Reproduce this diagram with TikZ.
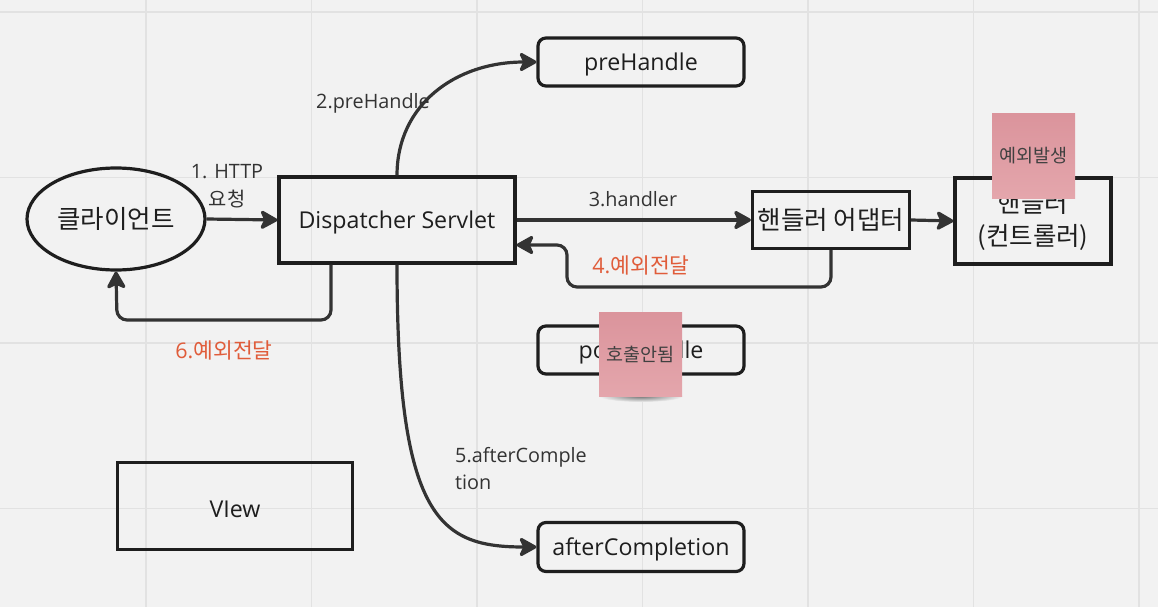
\documentclass[tikz,border=0pt]{standalone}
\usepackage{fontspec}
\setmainfont{Open Sans}
\newfontfamily\kr{Noto Sans CJK KR}
\usetikzlibrary{arrows.meta,shapes.geometric}
\definecolor{bg}{RGB}{242,242,242}
\definecolor{gridc}{RGB}{226,226,226}
\definecolor{ink}{RGB}{30,30,30}
\definecolor{wire}{RGB}{51,51,51}
\definecolor{orangec}{RGB}{224,92,58}
\definecolor{sticky}{RGB}{219,148,156}
\definecolor{stickyb}{RGB}{228,166,172}
\newcommand{\lowstrut}{\rule{0pt}{22.5pt}}
\begin{document}
\begin{tikzpicture}[x=1pt,y=-1pt,
 box/.style={draw=ink, line width=3.2pt, inner sep=0pt, text=ink, font=\fontsize{23.2}{30}\selectfont, align=center},
 krbox/.style={box, font=\kr\fontsize{25.5}{33}\selectfont},
 rbox/.style={box, rounded corners=8pt},
 lbl/.style={text=wire, font=\fontsize{19.8}{27.5}\selectfont, align=center, inner sep=0pt},
 olbl/.style={lbl, text=orangec, font=\fontsize{21.5}{27}\selectfont},
 conn/.style={draw=wire, line width=3.2pt, -{Stealth[length=20pt,width=22pt,inset=5pt,round]}, rounded corners=10pt},
 note/.style={inner sep=0pt, minimum width=83pt, minimum height=84pt, top color=sticky, bottom color=stickyb, text=ink!85, font=\kr\fontsize{18.5}{22}\selectfont}
]
\useasboundingbox (0,0) rectangle (1158,607);
\fill[bg] (0,0) rectangle (1158,607);
% grid
\foreach \gx in {146,311.5,477,642.5,808,973.5,1139}
  \draw[gridc, line width=1.3pt] (\gx,0) -- (\gx,607);
\foreach \gy in {12,177.5,343,508.5}
  \draw[gridc, line width=1.3pt] (0,\gy) -- (1158,\gy);

% nodes
\node[krbox, ellipse, minimum width=178pt, minimum height=102pt] (client) at (116,219) {클라이언트};
\node[box, minimum width=236pt, minimum height=86pt] (ds) at (397,220) {\lowstrut Dispatcher Servlet};
\node[rbox, minimum width=206pt, minimum height=48pt] (pre) at (641,62) {\lowstrut preHandle};
\node[rbox, minimum width=206pt, minimum height=48pt] (post) at (641,350) {\lowstrut postHandle};
\node[rbox, minimum width=206pt, minimum height=49pt] (after) at (641,547) {\lowstrut afterCompletion};
\node[krbox, minimum width=157pt, minimum height=57pt] (ad) at (831,220) {핸들러 어댑터};
\node[krbox, minimum width=156pt, minimum height=86pt, font=\kr\fontsize{25.5}{33}\selectfont] (ctl) at (1033,221) {핸들러\\(컨트롤러)};
\node[box, minimum width=235pt, minimum height=87pt] (view) at (235,506) {\lowstrut VIew};

% connectors
\draw[conn] (client.east) -- (ds.west);
\node[lbl] (l1) at (227,186) {1. HTTP\\{\kr 요청}};
\draw[conn] (ds.north) .. controls (397,105) and (455,62) .. (pre.west);
\node[lbl] (l2) at (373,103) {2.preHandle};
\draw[conn] (ds.east) -- (ad.west);
\node[lbl] (l3) at (633,199) {3.handler};
\draw[conn] (ad.east) -- (ctl.west);
\draw[conn] (ad.south) -- (831,287) -- (567,287) -- (567,245) -- ([yshift=-25pt]ds.east);
\node[olbl] (l4) at (641,265) {4.{\kr 예외전달}};
\draw[conn] (ds.south) .. controls (397,520) and (440,547) .. (after.west);
\node[lbl, align=left, anchor=north west] (l5) at (455,447) {5.afterComple\\tion};
\draw[conn] ([xshift=-66pt]ds.south) -- (331,320) -- (117,320) -- (client.south);
\node[olbl] (l6) at (224,350) {6.{\kr 예외전달}};

% sticky notes
\shade[inner color=black!55, outer color=bg] (641,396) ellipse [x radius=42pt, y radius=6pt];
\node[note] (n1) at (1033.5,156) {예외발생};
\node[note] (n2) at (640.5,354.5) {호출안됨};
\end{tikzpicture}
\end{document}
